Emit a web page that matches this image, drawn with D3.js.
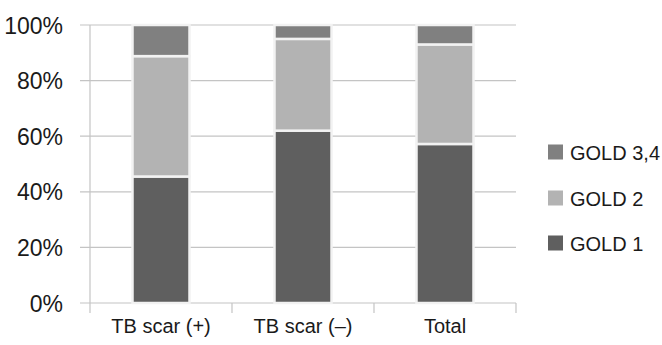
<!DOCTYPE html>
<html>
<head>
<meta charset="utf-8">
<script src="https://cdn.jsdelivr.net/npm/d3@7"></script>
<style>
  body { margin: 0; background: #fff; }
  text { font-family: "Liberation Sans", Arial, sans-serif; fill: #1a1a1a; }
</style>
</head>
<body>
<div id="chart"></div>
<script>
var categories = ['TB scar (+)', 'TB scar (\u2013)', 'Total'];
var gold1 = [45.5, 62, 57.2];
var gold2 = [43.3, 33, 35.8];
var gold34 = [11.2, 5, 7];
var seriesNames = ['GOLD 1', 'GOLD 2', 'GOLD 3,4'];
var seriesColors = ['#5f5f5f', '#b3b3b3', '#808080'];
var yTicks = [0, 20, 40, 60, 80, 100];

var w = 662, h = 345;
// note: "top" is taken by window.top, so plot edges get their own names
var plotLeft = 90, plotRight = 516, plotTop = 25, plotBottom = 303;

var svg = d3.select('#chart').append('svg')
  .attr('width', w)
  .attr('height', h);

var x = d3.scaleBand().domain(categories).range([plotLeft, plotRight]).paddingInner(0).paddingOuter(0);
var y = d3.scaleLinear().domain([0, 100]).range([plotBottom, plotTop]);

// grid
svg.selectAll('line.grid')
  .data(yTicks)
  .enter()
  .append('line')
  .attr('class', 'grid')
  .attr('x1', plotLeft - 10)
  .attr('x2', plotRight)
  .attr('y1', function(d) { return y(d); })
  .attr('y2', function(d) { return y(d); })
  .attr('stroke', '#c4c4c4')
  .attr('stroke-width', 1.2);

// y axis line
svg.append('line')
  .attr('x1', plotLeft).attr('x2', plotLeft)
  .attr('y1', plotTop).attr('y2', plotBottom + 10)
  .attr('stroke', '#c4c4c4').attr('stroke-width', 1.2);

// category tick marks
var bounds = categories.map(function(c) { return x(c); }).concat([plotRight]);
svg.selectAll('line.xtick')
  .data(bounds.slice(1))
  .enter()
  .append('line')
  .attr('class', 'xtick')
  .attr('x1', function(d) { return d; })
  .attr('x2', function(d) { return d; })
  .attr('y1', plotBottom)
  .attr('y2', plotBottom + 10)
  .attr('stroke', '#c4c4c4').attr('stroke-width', 1.2);

// y labels
svg.selectAll('text.ylab')
  .data(yTicks)
  .enter()
  .append('text')
  .attr('class', 'ylab')
  .attr('x', 63)
  .attr('y', function(d) { return y(d) + 8.5; })
  .attr('text-anchor', 'end')
  .style('font-size', '23px')
  .text(function(d) { return d + '%'; });

// x labels
svg.selectAll('text.xlab')
  .data(categories)
  .enter()
  .append('text')
  .attr('class', 'xlab')
  .attr('x', function(d) { return x(d) + x.bandwidth() / 2; })
  .attr('y', 333)
  .attr('text-anchor', 'middle')
  .style('font-size', '20px')
  .text(function(d) { return d; });

// stacked bars
var rows = categories.map(function(c, i) {
  return { cat: c, 'GOLD 1': gold1[i], 'GOLD 2': gold2[i], 'GOLD 3,4': gold34[i] };
});
var stack = d3.stack().keys(seriesNames)(rows);
var barW = 57;

var groups = svg.selectAll('g.series')
  .data(stack)
  .enter()
  .append('g')
  .attr('class', 'series')
  .attr('fill', function(d, i) { return seriesColors[i]; });

groups.selectAll('rect')
  .data(function(d) { return d; })
  .enter()
  .append('rect')
  .attr('x', function(d) { return x(d.data.cat) + x.bandwidth() / 2 - barW / 2; })
  .attr('y', function(d) { return y(d[1]); })
  .attr('width', barW)
  .attr('height', function(d) { return y(d[0]) - y(d[1]); })
  .attr('stroke', '#f2f2f2')
  .attr('stroke-width', 2.5);

// legend
var legendY = [243, 198, 152];
var legend = svg.selectAll('g.legend')
  .data(seriesNames)
  .enter()
  .append('g')
  .attr('class', 'legend')
  .attr('transform', function(d, i) { return 'translate(548,' + legendY[i] + ')'; });

legend.append('rect')
  .attr('x', 0).attr('y', -7.5)
  .attr('width', 15).attr('height', 15)
  .attr('fill', function(d, i) { return seriesColors[i]; });

legend.append('text')
  .attr('x', 22)
  .attr('y', 7.5)
  .style('font-size', '20px')
  .text(function(d) { return d; });
</script>
</body>
</html>
